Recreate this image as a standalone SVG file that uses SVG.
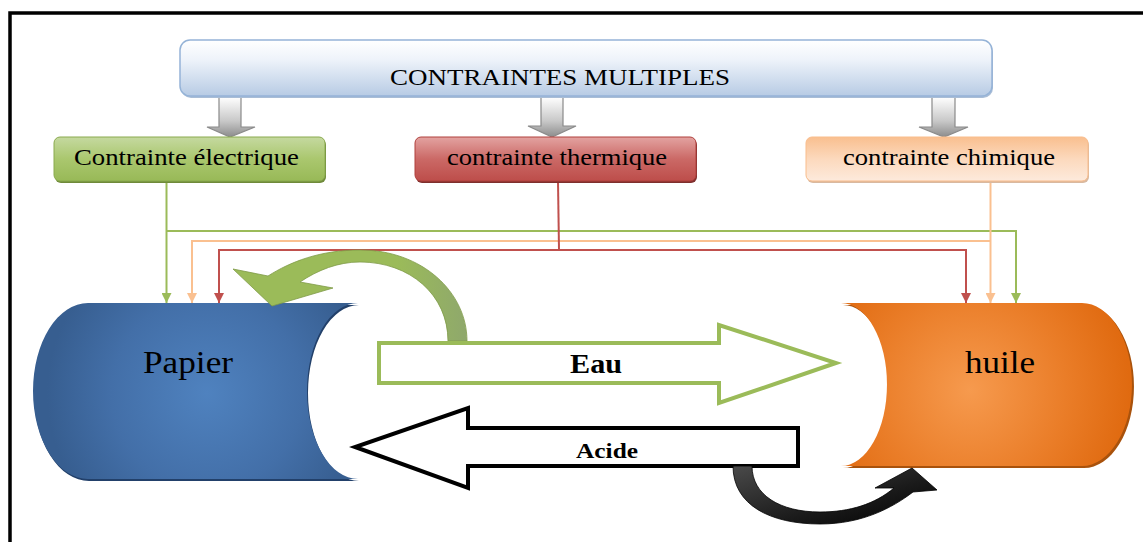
<svg xmlns="http://www.w3.org/2000/svg" width="1143" height="542" viewBox="0 0 1143 542">
<style>
  .lbl { font-family: "Liberation Serif", "Times New Roman", serif; fill: #000; }
  .conn { fill: none; stroke-width: 2; }
  .gray { fill: url(#gGray); stroke: #8a8a8a; stroke-width: 1.2; }
</style>
<defs>
  <linearGradient id="gTop" x1="0" y1="0" x2="0" y2="1">
    <stop offset="0" stop-color="#ffffff"/>
    <stop offset="0.35" stop-color="#eef3fa"/>
    <stop offset="1" stop-color="#b7cbe4"/>
  </linearGradient>
  <linearGradient id="gGreen" x1="0" y1="0" x2="0" y2="1">
    <stop offset="0" stop-color="#c5d9a0"/>
    <stop offset="0.5" stop-color="#aac76e"/>
    <stop offset="1" stop-color="#98b957"/>
  </linearGradient>
  <linearGradient id="gRed" x1="0" y1="0" x2="0" y2="1">
    <stop offset="0" stop-color="#e3a3a1"/>
    <stop offset="0.5" stop-color="#cb6966"/>
    <stop offset="1" stop-color="#bd4d4a"/>
  </linearGradient>
  <linearGradient id="gOrange" x1="0" y1="0" x2="0" y2="1">
    <stop offset="0" stop-color="#f9bf8f"/>
    <stop offset="0.5" stop-color="#fcd9bd"/>
    <stop offset="1" stop-color="#fdeadc"/>
  </linearGradient>
  <linearGradient id="gGray" x1="0" y1="0" x2="0" y2="1">
    <stop offset="0" stop-color="#ffffff"/>
    <stop offset="0.6" stop-color="#c8c8c8"/>
    <stop offset="1" stop-color="#8c8c8c"/>
  </linearGradient>
  <radialGradient id="gBlue" cx="207" cy="393" r="160" gradientUnits="userSpaceOnUse">
    <stop offset="0" stop-color="#4f82bf"/>
    <stop offset="0.6" stop-color="#436fa8"/>
    <stop offset="1" stop-color="#375e90"/>
  </radialGradient>
  <radialGradient id="gOr" cx="970" cy="390" r="160" gradientUnits="userSpaceOnUse">
    <stop offset="0" stop-color="#f69a4e"/>
    <stop offset="0.6" stop-color="#ea7d28"/>
    <stop offset="1" stop-color="#e06a10"/>
  </radialGradient>
  <linearGradient id="gCurveG" x1="0" y1="0" x2="1" y2="0">
    <stop offset="0" stop-color="#9bbb59"/>
    <stop offset="0.7" stop-color="#9bbb59"/>
    <stop offset="1" stop-color="#8fa86c"/>
  </linearGradient>
  <linearGradient id="gCurveK" x1="0" y1="0" x2="1" y2="1">
    <stop offset="0" stop-color="#4a4a4a"/>
    <stop offset="0.6" stop-color="#1a1a1a"/>
    <stop offset="1" stop-color="#000000"/>
  </linearGradient>
  <marker id="mG" viewBox="0 0 10 10" refX="10" refY="5" markerWidth="10" markerHeight="10" markerUnits="userSpaceOnUse" orient="auto">
    <path d="M0,0 L10,5 L0,10 Z" fill="#9bbb59"/>
  </marker>
  <marker id="mO" viewBox="0 0 10 10" refX="10" refY="5" markerWidth="10" markerHeight="10" markerUnits="userSpaceOnUse" orient="auto">
    <path d="M0,0 L10,5 L0,10 Z" fill="#fac090"/>
  </marker>
  <marker id="mR" viewBox="0 0 10 10" refX="10" refY="5" markerWidth="10" markerHeight="10" markerUnits="userSpaceOnUse" orient="auto">
    <path d="M0,0 L10,5 L0,10 Z" fill="#c0504d"/>
  </marker>
</defs>

<rect width="1143" height="542" fill="#ffffff"/>
<!-- frame -->
<rect x="10" y="13" width="1200" height="600" fill="none" stroke="#000" stroke-width="3.5"/>

<!-- connectors -->
<g id="connectors">
  <path class="conn" stroke="#9bbb59" d="M166.5,181 V303" marker-end="url(#mG)"/>
  <path class="conn" stroke="#9bbb59" d="M166.5,231 H1016 V303" marker-end="url(#mG)"/>
  <path class="conn" stroke="#fac090" d="M990.5,181 V303" marker-end="url(#mO)"/>
  <path class="conn" stroke="#fac090" d="M990.5,241 H192 V303" marker-end="url(#mO)"/>
  <path class="conn" stroke="#c0504d" d="M558,181 L559,250"/>
  <path class="conn" stroke="#c0504d" d="M559,250 H219 V303" marker-end="url(#mR)"/>
  <path class="conn" stroke="#c0504d" d="M559,250 H966 V303" marker-end="url(#mR)"/>
  <!-- gray block arrows -->
  <path class="gray" d="M219,97 H241 V127 H255 L230,137 L207,127 H219 Z"/>
  <path class="gray" d="M541,97 H563 V126 H576 L552,137 L528,126 H541 Z"/>
  <path class="gray" d="M932,97 H955 V127 H968 L944,137 L919,127 H932 Z"/>
</g>

<g id="node-top">
  <rect x="181" y="42" width="812" height="56" rx="10" fill="#a9bdd6"/>
  <rect x="180" y="40" width="812" height="56" rx="10" fill="url(#gTop)" stroke="#95b3d7" stroke-width="1.5"/>
  <text class="lbl" x="390" y="85" font-size="24" textLength="340" lengthAdjust="spacingAndGlyphs">CONTRAINTES MULTIPLES</text>
</g>

<g id="node-electrique">
  <rect x="55" y="139" width="271" height="44" rx="6" fill="#6f8a3a"/>
  <rect x="54" y="137" width="271" height="44" rx="6" fill="url(#gGreen)" stroke="#8aaa4e" stroke-width="1"/>
  <text class="lbl" x="74" y="165" font-size="23" textLength="225" lengthAdjust="spacingAndGlyphs">Contrainte électrique</text>
</g>

<g id="node-thermique">
  <rect x="416" y="139" width="281" height="44" rx="6" fill="#7e2f2d"/>
  <rect x="415" y="137" width="281" height="44" rx="6" fill="url(#gRed)" stroke="#b0403d" stroke-width="1"/>
  <text class="lbl" x="447" y="165" font-size="23" textLength="220" lengthAdjust="spacingAndGlyphs">contrainte thermique</text>
</g>

<g id="node-chimique">
  <rect x="807" y="139" width="282" height="44" rx="6" fill="#d9b9a0"/>
  <rect x="806" y="137" width="282" height="44" rx="6" fill="url(#gOrange)" stroke="#f9bd8c" stroke-width="1"/>
  <text class="lbl" x="843" y="165" font-size="23" textLength="212" lengthAdjust="spacingAndGlyphs">contrainte chimique</text>
</g>

<g id="node-papier">
  <path d="M89,305 L359,305 A51,88 0 0 0 359,481 L89,481 A55,88 0 0 1 89,305 Z" fill="#22406a"/>
  <path d="M88,303 L358,303 A51,88 0 0 0 358,479 L88,479 A55,88 0 0 1 88,303 Z" fill="url(#gBlue)"/>
  <text class="lbl" x="143" y="373" font-size="32" textLength="90" lengthAdjust="spacingAndGlyphs">Papier</text>
</g>

<g id="node-huile">
  <path d="M843,305 L1084,305 A50,81.5 0 0 1 1084,468 L843,468 A46,81.5 0 0 0 843,305 Z" fill="#a9520c"/>
  <path d="M841,303 L1082,303 A50,81.5 0 0 1 1082,466 L841,466 A46,81.5 0 0 0 841,303 Z" fill="url(#gOr)"/>
  <text class="lbl" x="965" y="373" font-size="32" textLength="70" lengthAdjust="spacingAndGlyphs">huile</text>
</g>

<g id="curve-green">
  <path d="M467,341 C467,292 422,250 360,250 C320,250 290,262 268,276 L233,269 L272,306 L333,288 L300,282 C318,270 338,262 360,262 C410,262 448,295 448,341 Z" fill="url(#gCurveG)" stroke="#7f9a48" stroke-width="0.8"/>
</g>

<g id="arrow-eau">
  <path d="M379,343 H719 V325 L836,363 L719,403 V383 H379 Z" fill="#ffffff" stroke="#9bbb59" stroke-width="4"/>
  <text class="lbl" x="570" y="373" font-size="27" font-weight="bold" textLength="52" lengthAdjust="spacingAndGlyphs">Eau</text>
</g>

<g id="arrow-acide">
  <path d="M798,428 H468 V408 L355,447 L468,488 V466 H798 Z" fill="#ffffff" stroke="#000000" stroke-width="4"/>
  <text class="lbl" x="576" y="458" font-size="22" font-weight="bold" textLength="62" lengthAdjust="spacingAndGlyphs">Acide</text>
</g>

<g id="curve-black">
  <path d="M733,466 C733,505 770,524 820,524 C862,524 892,508 913,492 L937,490 L912,468 L875,488 L894,488 C875,504 850,512 820,512 C780,512 752,495 752,466 Z" fill="url(#gCurveK)" stroke="#000" stroke-width="0.8"/>
</g>
</svg>
